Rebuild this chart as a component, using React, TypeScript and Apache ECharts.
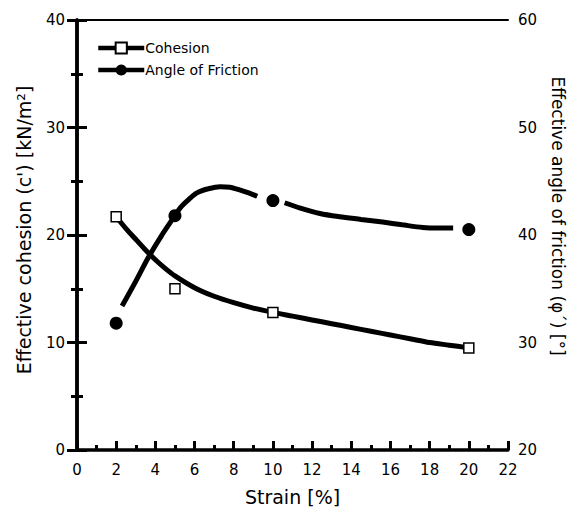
import React, { useEffect, useRef } from "react";
import * as echarts from "echarts";

const strainTicks = { min: 0, max: 22, interval: 2 };
const markerStrain = [2, 5, 10, 20];
const cohesionValues = [21.7, 15.0, 12.8, 9.5];
const frictionValues = [31.8, 41.8, 43.2, 40.5];

const cohesionFitStrain = [2, 2.5, 3, 3.5, 4, 4.5, 5, 6, 7, 8, 9, 10, 11, 12, 13, 14, 15, 16, 17, 18, 19, 20];
const cohesionFitValues = [21.7, 20.6, 19.6, 18.6, 17.7, 16.9, 16.2, 15.1, 14.3, 13.7, 13.2, 12.8, 12.45, 12.1, 11.75, 11.4, 11.05, 10.7, 10.35, 10.0, 9.75, 9.5];

const frictionFitStrainA = [2.3, 3, 3.64, 4.3, 5, 5.3, 5.7, 6.1, 6.7, 7.3, 7.8, 8.3, 8.8, 9.2];
const frictionFitValuesA = [33.4, 35.7, 37.9, 39.9, 41.8, 42.6, 43.3, 43.9, 44.3, 44.5, 44.45, 44.2, 43.9, 43.6];
const frictionFitStrainB = [10.6, 11.4, 12.4, 13.4, 14.5, 15.6, 16.6, 17.65, 18.5, 19.2];
const frictionFitValuesB = [43.0, 42.5, 42.0, 41.7, 41.45, 41.2, 40.95, 40.7, 40.65, 40.65];

const FONT = "DejaVu Sans";

export default function App() {
  const ref = useRef<HTMLDivElement>(null);
  useEffect(() => {
    if (!ref.current) return;
    const chart = echarts.init(ref.current, null, { renderer: "svg" });
    const zip = (xs: number[], ys: number[]) => xs.map((x, i) => [x, ys[i]]);
    const frictionFit = [
      ...zip(frictionFitStrainA, frictionFitValuesA),
      [9.9, "-"],
      ...zip(frictionFitStrainB, frictionFitValuesB),
    ];
    const axisLabel = { color: "#000", fontSize: 15, fontFamily: FONT };
    chart.setOption({
      animation: false,
      backgroundColor: "#fff",
      grid: { left: 77, right: 79, top: 20, bottom: 61, outerBoundsMode: "none" },
      legend: {
        orient: "vertical",
        left: 91,
        top: 36,
        itemWidth: 46,
        itemHeight: 14,
        itemGap: 8,
        data: ["Cohesion", "Angle of Friction"],
        textStyle: { color: "#000", fontSize: 14, fontFamily: FONT, padding: [0, 0, 0, -4] },
        lineStyle: { width: 4.5 },
      },
      xAxis: [
        {
          type: "value",
          min: strainTicks.min,
          max: strainTicks.max,
          interval: strainTicks.interval,
          position: "bottom",
          name: "Strain [%]",
          nameLocation: "middle",
          nameGap: 37,
          nameTextStyle: { color: "#000", fontSize: 19, fontFamily: FONT },
          axisLine: { lineStyle: { color: "#000", width: 3.5 } },
          axisTick: { inside: true, length: 9, lineStyle: { color: "#000", width: 3 } },
          minorTick: { show: true, splitNumber: 2, length: 5, lineStyle: { color: "#000", width: 3 } },
          axisLabel: { ...axisLabel, margin: 12 },
          splitLine: { show: false },
        },
        {
          type: "value",
          min: strainTicks.min,
          max: strainTicks.max,
          interval: strainTicks.interval,
          position: "top",
          axisLine: { lineStyle: { color: "#000", width: 2 } },
          axisTick: { show: false },
          axisLabel: { show: false },
          splitLine: { show: false },
        },
      ],
      yAxis: [
        {
          type: "value",
          min: 0,
          max: 40,
          interval: 10,
          position: "left",
          axisLine: { show: true, lineStyle: { color: "#000", width: 3.5 } },
          axisTick: { show: true, inside: true, length: 10, lineStyle: { color: "#000", width: 3 } },
          minorTick: { show: true, splitNumber: 2, length: 6, lineStyle: { color: "#000", width: 3 } },
          axisLabel: { ...axisLabel, margin: 12 },
          splitLine: { show: false },
        },
        {
          type: "value",
          min: 20,
          max: 60,
          interval: 10,
          position: "right",
          axisLine: { show: true, lineStyle: { color: "#000", width: 3.5 } },
          axisTick: { show: true, inside: true, length: 10, lineStyle: { color: "#000", width: 3 } },
          minorTick: { show: true, splitNumber: 2, length: 6, lineStyle: { color: "#000", width: 3 } },
          axisLabel: { ...axisLabel, margin: 10 },
          splitLine: { show: false },
        },
      ],
      graphic: [
        {
          type: "text",
          x: 24,
          y: 230,
          rotation: Math.PI / 2,
          style: {
            text: "Effective cohesion (c') [kN/m²]",
            fontSize: 19,
            fontFamily: FONT,
            fill: "#000",
            align: "center",
            verticalAlign: "middle",
          },
        },
        {
          type: "text",
          x: 558,
          y: 216,
          rotation: -Math.PI / 2,
          style: {
            text: "Effective angle of friction (φ΄) [°]",
            fontSize: 17,
            fontFamily: FONT,
            fill: "#000",
            align: "center",
            verticalAlign: "middle",
          },
        },
      ],
      series: [
        {
          name: "Cohesion",
          type: "line",
          xAxisIndex: 0,
          yAxisIndex: 0,
          data: zip(cohesionFitStrain, cohesionFitValues),
          smooth: 0.3,
          showSymbol: false,
          symbol: "emptyRect",
          symbolSize: 9,
          itemStyle: { color: "#000", borderWidth: 1.5, opacity: 1 },
          lineStyle: { color: "#000", width: 5 },
          z: 2,
        },
        {
          name: "Angle of Friction",
          type: "line",
          xAxisIndex: 0,
          yAxisIndex: 1,
          data: frictionFit,
          smooth: 0.3,
          connectNulls: false,
          showSymbol: false,
          symbol: "circle",
          symbolSize: 10,
          itemStyle: { color: "#000", opacity: 1 },
          lineStyle: { color: "#000", width: 5 },
          z: 2,
        },
        {
          name: "Cohesion data",
          type: "scatter",
          xAxisIndex: 0,
          yAxisIndex: 0,
          data: zip(markerStrain, cohesionValues),
          symbol: "rect",
          symbolSize: 10,
          itemStyle: { color: "#fff", borderColor: "#000", borderWidth: 1.5, opacity: 1 },
          z: 4,
        },
        {
          name: "Friction data",
          type: "scatter",
          xAxisIndex: 0,
          yAxisIndex: 1,
          data: zip(markerStrain, frictionValues),
          symbol: "circle",
          symbolSize: 13,
          itemStyle: { color: "#000", opacity: 1 },
          z: 4,
        },
      ],
    });
    return () => chart.dispose();
  }, []);
  return <div ref={ref} style={{ width: 587, height: 511, position: "absolute", left: 0, top: 0 }} />;
}
